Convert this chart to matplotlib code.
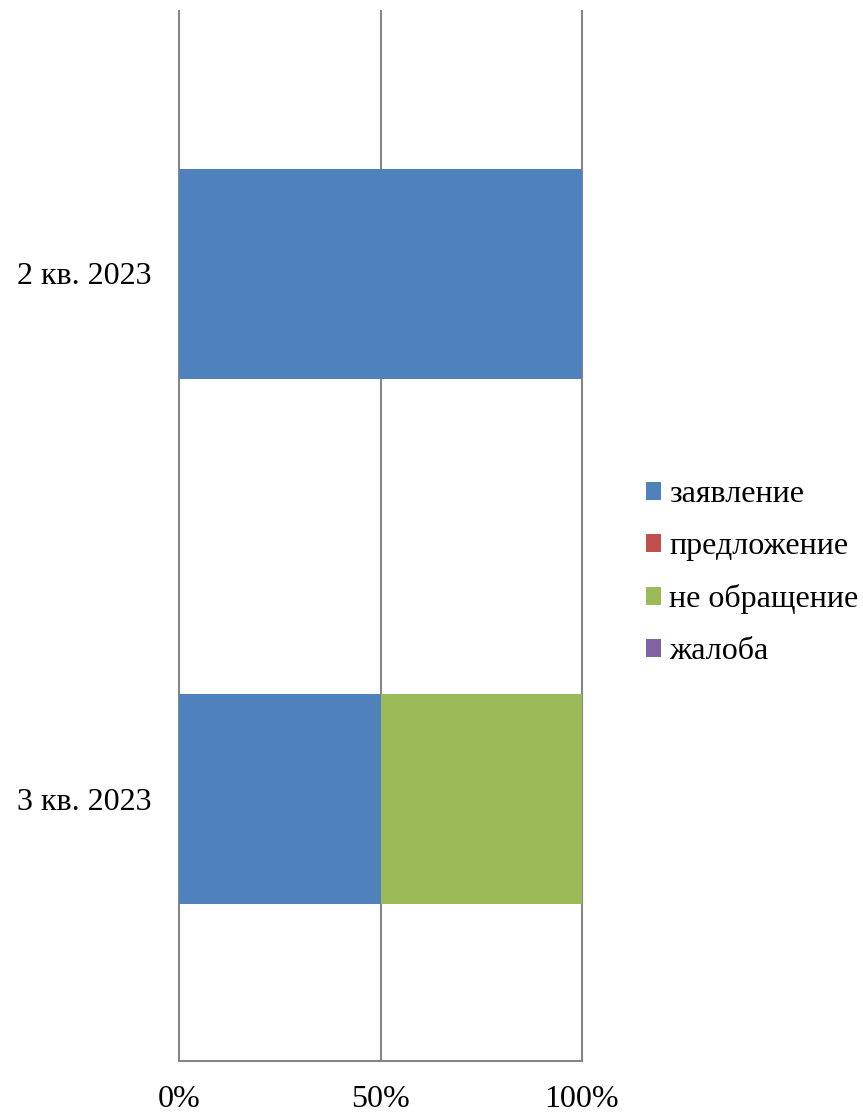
import numpy as np
import matplotlib.pyplot as plt

plt.rcParams['font.family'] = ['Liberation Serif', 'DejaVu Serif']

quarters = ["2 кв. 2023", "3 кв. 2023"]
series = ["заявление", "предложение", "не обращение", "жалоба"]
colors = ["#4F81BD", "#C0504D", "#9BBB59", "#8064A2"]
# counts per quarter, shown as shares of 100%
counts = {
    "заявление": [1, 1],
    "предложение": [0, 0],
    "не обращение": [0, 1],
    "жалоба": [0, 0],
}

totals = np.sum([counts[s] for s in series], axis=0)

fig = plt.figure(figsize=(8.63, 11.13), dpi=100)
ax = fig.add_axes([179/863, 52/1113, 403/863, 1050/1113])

y = np.arange(len(quarters))
left = np.zeros(len(quarters))
for s, c in zip(series, colors):
    share = np.array(counts[s]) / totals * 100
    ax.barh(y, share, left=left, height=0.4, color=c, label=s, linewidth=0, zorder=3)
    left += share

ax.set_xlim(0, 100)
ax.set_ylim(len(quarters) - 0.5, -0.5)
ax.set_yticks(y)
ax.set_yticklabels(quarters)
ax.set_xticks([0, 50, 100])
ax.set_xticklabels(["0%", "50%", "100%"])
ax.tick_params(axis='both', length=0, labelsize=23)
ax.tick_params(axis='y', pad=20)
ax.tick_params(axis='x', pad=17)
ax.grid(axis='x', color='#868686', linewidth=1.5, zorder=1)
for line in ax.get_xgridlines():
    line.set_clip_on(False)
for side in ['top', 'right', 'left']:
    ax.spines[side].set_visible(False)
ax.spines['bottom'].set_color('#868686')
ax.spines['bottom'].set_linewidth(1.5)

fig.legend(loc='center left', bbox_to_anchor=(617/863, (1113-573)/1113),
           frameon=False, fontsize=23, handlelength=0.48, handleheight=0.48,
           handletextpad=0.25, labelspacing=0.72)

fig.savefig("out.png", dpi=100)
